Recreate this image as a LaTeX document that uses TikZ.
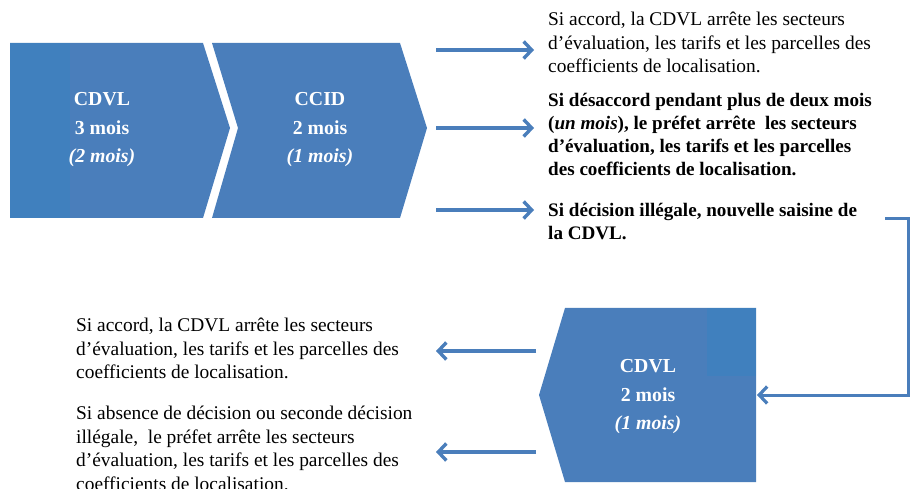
\documentclass[tikz,border=0pt]{standalone}
\usepackage{fontspec}
\setmainfont{Liberation Serif}
\usetikzlibrary{arrows.meta}
\definecolor{cblue}{HTML}{4A7EBB}
\definecolor{cdark}{HTML}{4080BE}
\begin{document}
\begin{tikzpicture}[x=1pt,y=-1pt,
  arr/.style={draw=cblue, line width=3.6pt, -{Straight Barb[length=8pt,width=17pt,line width=3.4pt]}},
  link/.style={draw=cblue, line width=3pt, -{Straight Barb[length=8pt,width=17pt,line width=3.2pt]}},
  lbl/.style={text=white, font=\fontsize{19.8}{28.5}\selectfont\bfseries, align=center, inner sep=0pt},
  txt/.style={font=\fontsize{19.4}{23.5}\selectfont, align=left, inner sep=0pt, anchor=north west},
  btxt/.style={txt, font=\fontsize{19.1}{23}\selectfont\bfseries}]
\useasboundingbox (0,0) rectangle (911,489);
% top chevrons
\fill[cblue] (10,43) -- (203,43) -- (230,128) -- (203,218) -- (10,218) -- cycle;
\fill[cdark] (10,43) rectangle (70,218);
\fill[cblue] (212,43) -- (400,43) -- (427,128) -- (400,218) -- (212,218) -- (238,128) -- cycle;
% bottom chevron
\fill[cblue] (565,308) -- (756,308) -- (756,482) -- (565,482) -- (539,395) -- cycle;
\fill[cdark] (707,308) rectangle (756,376);
% labels
\node[lbl] (c1) at (102,130) {CDVL\\3 mois\\\textit{(2 mois)}};
\node[lbl] (c2) at (320,130) {CCID\\2 mois\\\textit{(1 mois)}};
\node[lbl] (c3) at (648,397) {CDVL\\2 mois\\\textit{(1 mois)}};
% top right texts
\node[txt] (t1) at (548,12) {Si accord, la CDVL arrête les secteurs\\d’évaluation, les tarifs et les parcelles des\\coefficients de localisation.};
\node[btxt] (t2) at (548,93) {Si désaccord pendant plus de deux mois\\(\textit{un mois}), le préfet arrête\ \ les secteurs\\d’évaluation, les tarifs et les parcelles\\des coefficients de localisation.};
\node[btxt] (t3) at (548,203) {Si décision illégale, nouvelle saisine de\\la CDVL.};
% bottom left texts
\node[txt] (t4) at (76,318) {Si accord, la CDVL arrête les secteurs\\d’évaluation, les tarifs et les parcelles des\\coefficients de localisation.};
\node[txt] (t5) at (76,406) {Si absence de décision ou seconde décision\\illégale,\ \ le préfet arrête les secteurs\\d’évaluation, les tarifs et les parcelles des\\coefficients de localisation.};
% arrow coordinates
\coordinate (a1s) at (436,50);  \coordinate (a1e) at (534,50);
\coordinate (a2s) at (436,128); \coordinate (a2e) at (534,128);
\coordinate (a3s) at (436,210); \coordinate (a3e) at (534,210);
\coordinate (b1s) at (536,351); \coordinate (b1e) at (436,351);
\coordinate (b2s) at (536,452); \coordinate (b2e) at (436,452);
\coordinate (r0) at (885,219); \coordinate (r1) at (908,219); \coordinate (r2) at (908,395); \coordinate (r3) at (757,395);
\draw[arr] (a1s) -- (a1e);
\draw[arr] (a2s) -- (a2e);
\draw[arr] (a3s) -- (a3e);
\draw[arr] (b1s) -- (b1e);
\draw[arr] (b2s) -- (b2e);
\draw[link] (r0) -- (r1) -- (r2) -- (r3);
\end{tikzpicture}
\end{document}
